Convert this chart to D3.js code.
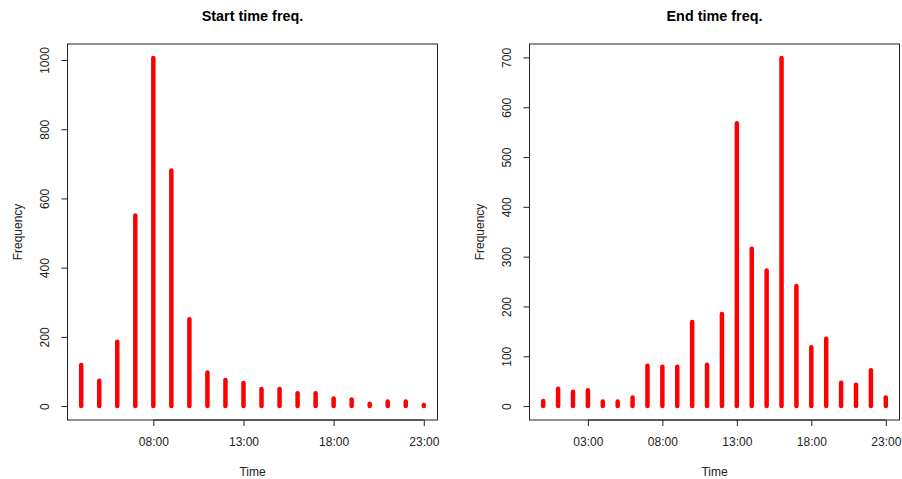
<!DOCTYPE html>
<html>
<head>
<meta charset="utf-8">
<script src="https://cdn.jsdelivr.net/npm/d3@7"></script>
<style>
  html, body { margin: 0; padding: 0; background: #fff; }
  svg { display: block; font-family: "Liberation Sans", Arial, sans-serif; }
</style>
</head>
<body>
<svg id="chart" width="902" height="479"></svg>
<script>
// ---- data ----
const startHours  = [4, 5, 6, 7, 8, 9, 10, 11, 12, 13, 14, 15, 16, 17, 18, 19, 20, 21, 22, 23];
const startCounts = [119, 73, 186, 551, 1006, 681, 251, 97, 75, 67, 49, 49, 37, 37, 22, 19, 7, 13, 13, 3];

const endHours  = [0, 1, 2, 3, 4, 5, 6, 7, 8, 9, 10, 11, 12, 13, 14, 15, 16, 17, 18, 19, 20, 21, 22, 23];
const endCounts = [10, 35, 29, 32, 9, 9, 17, 81, 79, 79, 169, 83, 185, 568, 316, 272, 699, 241, 118, 135, 47, 43, 72, 17];

const startXTicks = [8, 13, 18, 23];
const startXLabels = ["08:00", "13:00", "18:00", "23:00"];
const startYTicks = [0, 200, 400, 600, 800, 1000];

const endXTicks = [3, 8, 13, 18, 23];
const endXLabels = ["03:00", "08:00", "13:00", "18:00", "23:00"];
const endYTicks = [0, 100, 200, 300, 400, 500, 600, 700];

const titles = ["Start time freq.", "End time freq."];
const xTitle = "Time";
const yTitle = "Frequency";

// ---- drawing ----
const svg = d3.select("#chart");
const ink = "#222";

function rExtend(lo, hi) {
  const d = (hi - lo) * 0.04;
  return [lo - d, hi + d];
}

function drawPanel(opt) {
  const { left, right, top, bottom, hours, counts, xTicks, xLabels, yTicks, title } = opt;
  const g = svg.append("g");

  const x = d3.scaleLinear()
    .domain(rExtend(d3.min(hours), d3.max(hours)))
    .range([left, right]);
  const y = d3.scaleLinear()
    .domain(rExtend(0, d3.max(counts)))
    .range([bottom, top]);

  // bars (type = "h")
  g.selectAll("line.bar")
    .data(hours.map((h, i) => ({ h, v: counts[i] })))
    .join("line")
    .attr("class", "bar")
    .attr("x1", d => x(d.h)).attr("x2", d => x(d.h))
    .attr("y1", y(0)).attr("y2", d => y(d.v))
    .attr("stroke", "#ff0000")
    .attr("stroke-width", 4.5)
    .attr("stroke-linecap", "round");

  // box
  g.append("rect")
    .attr("x", left).attr("y", top)
    .attr("width", right - left).attr("height", bottom - top)
    .attr("fill", "none").attr("stroke", ink).attr("stroke-width", 1);

  // x axis
  const xAxis = d3.axisBottom(x)
    .tickValues(xTicks)
    .tickFormat((d, i) => xLabels[i])
    .tickSize(6).tickPadding(11);
  const xa = g.append("g").attr("transform", `translate(0,${bottom})`).call(xAxis);
  xa.select(".domain").attr("d", `M${x(xTicks[0])},0H${x(xTicks[xTicks.length - 1])}`).attr("stroke", ink);
  xa.selectAll(".tick line").attr("stroke", ink);
  xa.selectAll(".tick text").attr("fill", ink).style("font-size", "12px")
    .style("font-family", "'Liberation Sans', Arial, sans-serif");

  // y axis
  const yAxis = d3.axisLeft(y)
    .tickValues(yTicks)
    .tickFormat(d3.format("d"))
    .tickSize(6);
  const ya = g.append("g").attr("transform", `translate(${left},0)`).call(yAxis);
  ya.select(".domain").attr("d", `M0,${y(yTicks[0])}V${y(yTicks[yTicks.length - 1])}`).attr("stroke", ink);
  ya.selectAll(".tick line").attr("stroke", ink);
  ya.selectAll(".tick text")
    .attr("x", null).attr("dy", null)
    .attr("fill", ink).style("font-size", "12px")
    .style("font-family", "'Liberation Sans', Arial, sans-serif")
    .attr("text-anchor", "middle")
    .attr("transform", "translate(-22.5,0) rotate(-90)")
    .attr("dy", "0.35em");

  // titles
  g.append("text")
    .attr("x", (left + right) / 2).attr("y", 20.5)
    .attr("text-anchor", "middle")
    .style("font-size", "14.4px").style("font-weight", "bold")
    .attr("fill", "#000")
    .text(title);

  g.append("text")
    .attr("x", (left + right) / 2).attr("y", 476)
    .attr("text-anchor", "middle")
    .style("font-size", "12px").attr("fill", ink)
    .text(xTitle);

  g.append("text")
    .attr("transform", `translate(${left - 46},${(top + bottom) / 2}) rotate(-90)`)
    .attr("text-anchor", "middle")
    .style("font-size", "12px").attr("fill", ink)
    .text(yTitle);
}

drawPanel({
  left: 67.5, right: 437.5, top: 44, bottom: 420,
  hours: startHours, counts: startCounts,
  xTicks: startXTicks, xLabels: startXLabels, yTicks: startYTicks,
  title: titles[0]
});

drawPanel({
  left: 529.5, right: 899.5, top: 44, bottom: 420,
  hours: endHours, counts: endCounts,
  xTicks: endXTicks, xLabels: endXLabels, yTicks: endYTicks,
  title: titles[1]
});
</script>
</body>
</html>
